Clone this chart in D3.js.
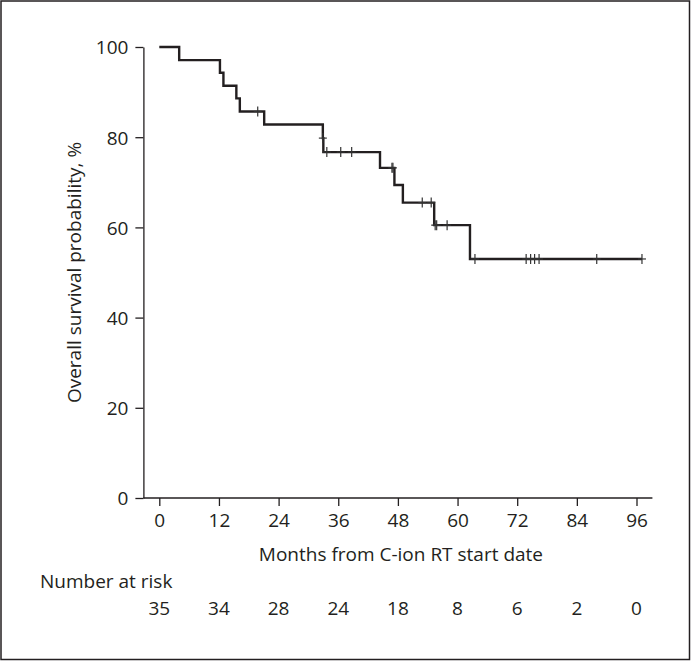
<!DOCTYPE html>
<html>
<head>
<meta charset="utf-8">
<script src="https://cdn.jsdelivr.net/npm/d3@7"></script>
<style>
  html, body { margin: 0; padding: 0; background: #fff; }
  svg { display: block; }
  text { font-family: "Open Sans", "Noto Sans", sans-serif; fill: #231f20; }
</style>
</head>
<body>
<svg id="chart" width="691" height="661"></svg>
<script>
// ---- Data ----
const stepTimes    = [0, 4.0, 12.2, 12.9, 15.5, 16.2, 21.1, 32.9, 33.0, 44.4, 47.3, 49.0, 55.3, 62.5];
const stepSurvival = [100, 97.1, 94.3, 91.4, 88.6, 85.7, 82.8, 79.8, 76.7, 73.2, 69.4, 65.5, 60.5, 53.0];
const followUpEnd  = 97.1;
const censorTimes  = [19.8, 32.9, 33.7, 36.5, 38.7, 46.8, 47.0, 52.9, 54.7, 55.5, 55.8, 57.9,
                      63.5, 73.8, 74.7, 75.5, 76.4, 88.0, 97.1];
const xTicks = [0, 12, 24, 36, 48, 60, 72, 84, 96];
const yTicks = [0, 20, 40, 60, 80, 100];
const numberAtRisk = [35, 34, 28, 24, 18, 8, 6, 2, 0];

// ---- Layout ----
const W = 691, H = 661;
const ink = "#231f20";
const fs = "19px";
const svg = d3.select("#chart");
svg.append("rect").attr("x", 1).attr("y", 1).attr("width", W - 2.5).attr("height", H - 2.5)
   .attr("fill", "#fff").attr("stroke", ink).attr("stroke-width", 1.5);

const x = d3.scaleLinear().domain([0, 96]).range([159.3, 636.5]);
const y = d3.scaleLinear().domain([0, 100]).range([498, 47]);
const axisStart = -3.2, axisEnd = 99.2; // in months: extent of x-axis line

// Y axis
const yAxisX = x(axisStart);
const gy = svg.append("g").attr("transform", `translate(${yAxisX},0)`)
  .call(d3.axisLeft(y).tickValues(yTicks).tickSize(8).tickSizeOuter(0).tickPadding(7));
gy.selectAll("text").style("font-size", fs).attr("dy", "0.36em");

// X axis
const gx = svg.append("g").attr("transform", `translate(0,${y(0)})`)
  .call(d3.axisBottom(x).tickValues(xTicks).tickSize(8).tickSizeOuter(0).tickPadding(8));
gx.select(".domain").remove();
gx.selectAll("text").style("font-size", fs);
svg.append("line").attr("x1", x(axisStart)).attr("x2", x(axisEnd))
   .attr("y1", y(0)).attr("y2", y(0)).attr("stroke", ink).attr("stroke-width", 1.3);

svg.selectAll(".domain, .tick line").attr("stroke", ink).attr("stroke-width", 1.3);

// Axis titles
svg.append("text").attr("x", (x(0) + x(96)) / 2 + 3).attr("y", 561)
   .attr("text-anchor", "middle").style("font-size", fs)
   .text("Months from C-ion RT start date");
svg.append("text")
   .attr("transform", `translate(81,${(y(0) + y(100)) / 2}) rotate(-90)`)
   .attr("text-anchor", "middle").style("font-size", fs)
   .text("Overall survival probability, %");

// Number at risk
svg.append("text").attr("x", 40).attr("y", 588).style("font-size", fs).text("Number at risk");
svg.append("g").selectAll("text").data(numberAtRisk).join("text")
   .attr("x", (d, i) => x(xTicks[i])).attr("y", 615)
   .attr("text-anchor", "middle").style("font-size", fs).text(d => d);

// KM curve
const pts = stepTimes.map((t, i) => [t, stepSurvival[i]]);
pts.push([followUpEnd, stepSurvival[stepSurvival.length - 1]]);
const line = d3.line().x(d => x(d[0])).y(d => y(d[1])).curve(d3.curveStepAfter);
svg.append("path").attr("d", line(pts)).attr("fill", "none")
   .attr("stroke", ink).attr("stroke-width", 2.4);

// Censor marks
const survAt = t => stepSurvival[d3.bisectRight(stepTimes, t) - 1];
const cg = svg.append("g").attr("stroke", "#333").attr("stroke-width", 1.2);
censorTimes.forEach(t => {
  const cx = x(t), cy = y(survAt(t));
  cg.append("line").attr("x1", cx).attr("x2", cx).attr("y1", cy - 5).attr("y2", cy + 5);
  cg.append("line").attr("x1", cx - 4).attr("x2", cx + 4).attr("y1", cy).attr("y2", cy);
});
</script>
</body>
</html>
